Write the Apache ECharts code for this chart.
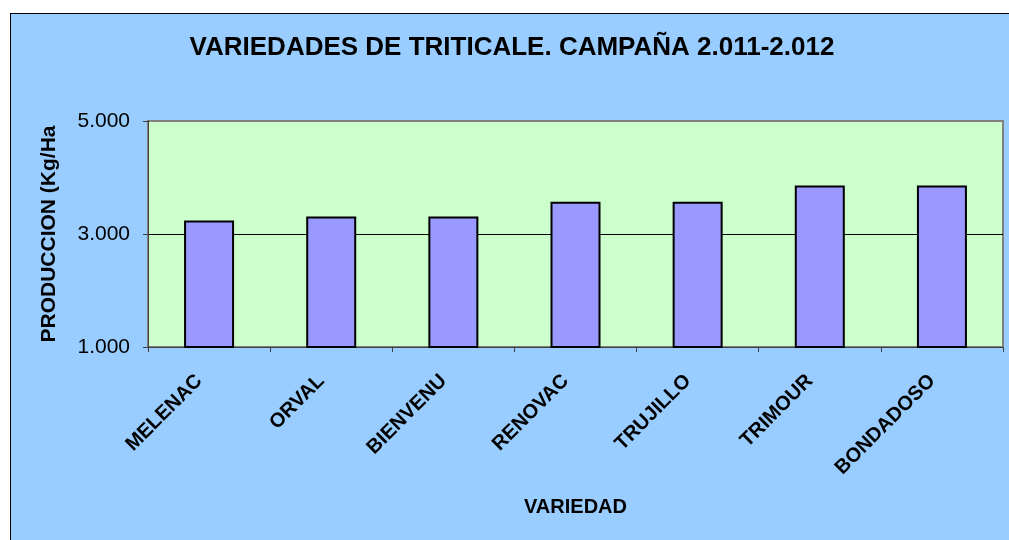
<!DOCTYPE html>
<html>
<head>
<meta charset="utf-8">
<script src="https://cdn.jsdelivr.net/npm/echarts@6/dist/echarts.min.js"></script>
<style>
  html, body { margin: 0; padding: 0; background: #fff; width: 1009px; height: 540px; overflow: hidden; }
  #chart {
    position: absolute; left: 10px; top: 13px;
    width: 1002px; height: 530px;
    border-left: 1px solid #000; border-top: 1px solid #000;
    background: #99CCFF;
  }
</style>
</head>
<body>
<div id="chart"></div>
<script>
const title = 'VARIEDADES DE TRITICALE. CAMPAÑA 2.011-2.012'
const categories = ['MELENAC', 'ORVAL', 'BIENVENU', 'RENOVAC', 'TRUJILLO', 'TRIMOUR', 'BONDADOSO']
const produccion = [3240, 3310, 3310, 3570, 3570, 3860, 3860]
const yMin = 1000
const yMax = 5000
const yStep = 2000

const font = '"Liberation Sans", Arial, sans-serif'

const chart = echarts.init(document.getElementById('chart'))

const option = {
  backgroundColor: '#99CCFF',
  animation: false,
  title: {
    text: title,
    left: 'center',
    top: 16,
    textStyle: { fontFamily: font, fontSize: 26, fontWeight: 'bold', color: '#000' }
  },
  grid: {
    left: 137,
    right: 10,
    top: 107,
    bottom: 197,
    show: true,
    backgroundColor: '#CCFFCC',
    borderColor: '#808080',
    borderWidth: 2
  },
  xAxis: {
    type: 'category',
    data: categories,
    name: 'VARIEDAD',
    nameLocation: 'middle',
    nameGap: 150,
    nameTextStyle: { fontFamily: font, fontSize: 20, fontWeight: 'bold', color: '#000' },
    axisLine: { lineStyle: { color: '#404040', width: 1 } },
    axisTick: { show: true, length: 5, lineStyle: { color: '#404040' } },
    axisLabel: {
      rotate: 45,
      margin: 21,
      padding: [0, 14, 0, 0],
      fontFamily: font,
      fontSize: 20,
      fontWeight: 'bold',
      color: '#000'
    }
  },
  yAxis: {
    type: 'value',
    min: yMin,
    max: yMax,
    interval: yStep,
    name: 'PRODUCCION (Kg/Ha',
    nameLocation: 'middle',
    nameGap: 88,
    nameTextStyle: { fontFamily: font, fontSize: 21, fontWeight: 'bold', color: '#000' },
    axisLine: { show: true, lineStyle: { color: '#404040', width: 1 } },
    axisTick: { show: true, length: 5, lineStyle: { color: '#404040' } },
    axisLabel: {
      margin: 18,
      fontFamily: font,
      fontSize: 21,
      color: '#000',
      formatter: v => String(v).replace(/^(\d)(\d{3})$/, '$1.$2')
    },
    splitLine: {
      show: true,
      lineStyle: { color: ['#808080', '#000', '#808080'], width: 1 }
    }
  },
  series: [
    {
      type: 'bar',
      data: produccion,
      barWidth: 50,
      itemStyle: { color: '#9999FF', borderColor: '#000', borderWidth: 2 }
    }
  ]
}

chart.setOption(option)
</script>
</body>
</html>
